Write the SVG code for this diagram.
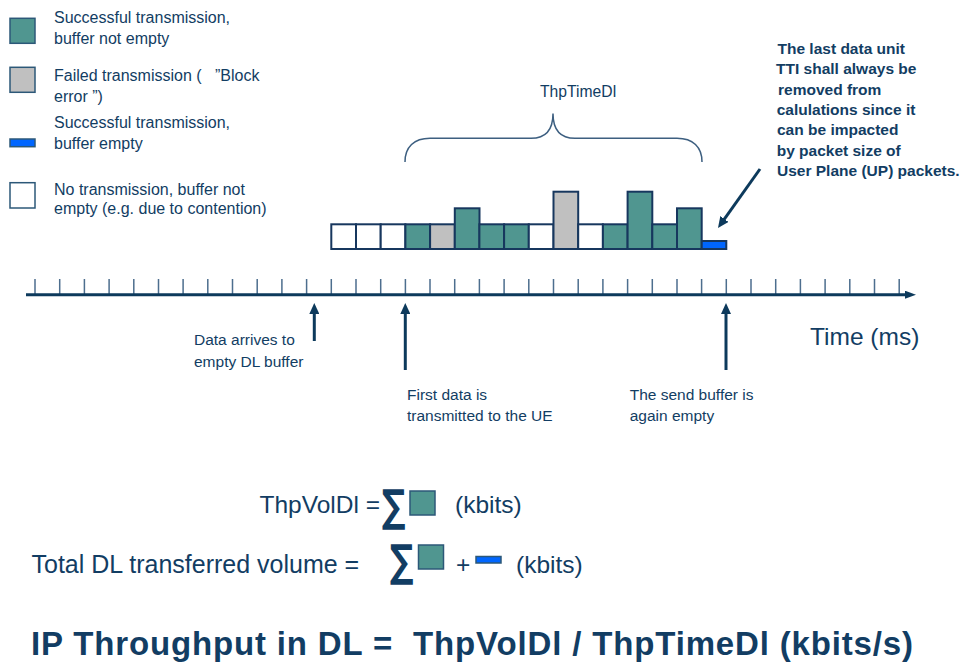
<svg xmlns="http://www.w3.org/2000/svg" width="967" height="664" viewBox="0 0 967 664">
<style>
.t{font-family:"Liberation Sans",Arial,sans-serif;fill:#123d63}
.s16{font-size:16px}
.s15{font-size:15.5px}
.b{font-weight:bold}
.teal{fill:#509690}
.gray{fill:#c0c0c0}
.blue{fill:#0066ff}
.white{fill:#ffffff}
.lg{stroke:#2c5878;stroke-width:1.5}
.bar{stroke:#17375e;stroke-width:2}
.arr{stroke:#0d3a5c;stroke-width:3;fill:none}
.sig{font-family:"DejaVu Sans",sans-serif;font-weight:bold;font-size:44px;fill:#123d63}
</style>
<defs>
<marker id="ah" viewBox="0 0 11 10" refX="1" refY="5" markerWidth="11" markerHeight="10" markerUnits="userSpaceOnUse" orient="auto"><path d="M0,0 L11,5 L0,10 z" fill="#0d3a5c"/></marker>
<marker id="ax" viewBox="0 0 11 8" refX="1" refY="4" markerWidth="11" markerHeight="8" markerUnits="userSpaceOnUse" orient="auto"><path d="M0,0 L11,4 L0,8 z" fill="#0d3a5c"/></marker>
</defs>
<rect width="967" height="664" fill="#ffffff"/>

<g id="legend">
<g id="lg-success">
<rect class="teal lg" x="10" y="18.3" width="25" height="25"/>
<text class="t s16" x="54" y="22.5">Successful transmission,</text>
<text class="t s16" x="54" y="44">buffer not empty</text>
</g>
<g id="lg-failed">
<rect class="gray lg" x="10" y="67.3" width="25" height="25"/>
<text class="t s16" x="54" y="81" style="white-space:pre">Failed transmission (   ”Block</text>
<text class="t s16" x="54" y="102">error ”)</text>
</g>
<g id="lg-empty">
<rect class="blue lg" x="10" y="139" width="25" height="7.7"/>
<text class="t s16" x="54" y="128.3">Successful transmission,</text>
<text class="t s16" x="54" y="149">buffer empty</text>
</g>
<g id="lg-none">
<rect class="white lg" x="10" y="182.7" width="25" height="25.3"/>
<text class="t s16" x="54" y="194.7">No transmission, buffer not</text>
<text class="t s16" x="54" y="214.3">empty (e.g. due to contention)</text>
</g>
</g>

<g id="brace">
<path d="M405,162 C405,147 414,138.3 430,138.3 L531,138.3 C546,138.3 553,130 553,113.5 C553,130 560,138.3 575,138.3 L677,138.3 C693,138.3 702,147 702,162" fill="none" stroke="#3d5f80" stroke-width="1.5"/>
<text class="t" x="540" y="96.7" style="font-size:15.7px">ThpTimeDl</text>
</g>

<g id="bars">
<rect class="white bar" x="331.3" y="224.3" width="24.7" height="24.7"/>
<rect class="white bar" x="356.0" y="224.3" width="24.7" height="24.7"/>
<rect class="white bar" x="380.7" y="224.3" width="24.7" height="24.7"/>
<rect class="teal bar" x="405.4" y="224.3" width="24.7" height="24.7"/>
<rect class="gray bar" x="430.1" y="224.3" width="24.7" height="24.7"/>
<rect class="teal bar" x="454.8" y="208.3" width="24.7" height="40.7"/>
<rect class="teal bar" x="479.4" y="224.3" width="24.7" height="24.7"/>
<rect class="teal bar" x="504.1" y="224.3" width="24.7" height="24.7"/>
<rect class="white bar" x="528.8" y="224.3" width="24.7" height="24.7"/>
<rect class="gray bar" x="553.5" y="191.7" width="24.7" height="57.3"/>
<rect class="white bar" x="578.2" y="224.3" width="24.7" height="24.7"/>
<rect class="teal bar" x="602.9" y="224.3" width="24.7" height="24.7"/>
<rect class="teal bar" x="627.6" y="191.7" width="24.7" height="57.3"/>
<rect class="teal bar" x="652.3" y="224.3" width="24.7" height="24.7"/>
<rect class="teal bar" x="677.0" y="208.3" width="24.7" height="40.7"/>
<rect class="blue bar" x="701.7" y="241" width="24.6" height="8"/>
</g>

<g id="axis">
<path d="M35,279V294 M59.7,279V294 M84.4,279V294 M109.1,279V294 M133.8,279V294 M158.5,279V294 M183.1,279V294 M207.8,279V294 M232.5,279V294 M257.2,279V294 M281.9,279V294 M306.6,279V294 M331.3,279V294 M356,279V294 M380.7,279V294 M405.4,279V294 M430,279V294 M454.7,279V294 M479.4,279V294 M504.1,279V294 M528.8,279V294 M553.5,279V294 M578.2,279V294 M602.9,279V294 M627.6,279V294 M652.3,279V294 M677,279V294 M701.6,279V294 M726.3,279V294 M751,279V294 M775.7,279V294 M800.4,279V294 M825.1,279V294 M849.8,279V294 M874.5,279V294 M899.2,279V294" stroke="#4d6e8e" stroke-width="1.5" fill="none"/>
<line class="arr" x1="26" y1="294.7" x2="906" y2="294.7" marker-end="url(#ax)"/>
<text class="t" x="810" y="345" style="font-size:24.5px">Time (ms)</text>
</g>

<g id="connectors">
<line class="arr" x1="314.3" y1="341" x2="314.3" y2="313" marker-end="url(#ah)"/>
<line class="arr" x1="405.3" y1="370" x2="405.3" y2="313" marker-end="url(#ah)"/>
<line class="arr" x1="726" y1="370" x2="726" y2="313" marker-end="url(#ah)"/>
<line class="arr" x1="760" y1="169" x2="723.8" y2="219.8" marker-end="url(#ah)"/>
</g>

<g id="label-arrives">
<text class="t s15" x="194" y="345">Data arrives to</text>
<text class="t s15" x="194" y="366.5">empty DL buffer</text>
</g>
<g id="label-first">
<text class="t s15" x="407" y="400">First data is</text>
<text class="t s15" x="407" y="421">transmitted to the UE</text>
</g>
<g id="label-send">
<text class="t s15" x="629.7" y="400">The send buffer is</text>
<text class="t s15" x="629.7" y="421">again empty</text>
</g>

<g id="annotation">
<text class="t s15 b" x="777.5" y="54">The last data unit</text>
<text class="t s15 b" x="776" y="74.3">TTI shall always be</text>
<text class="t s15 b" x="778" y="94.6">removed from</text>
<text class="t s15 b" x="776.7" y="114.9">calulations since it</text>
<text class="t s15 b" x="777" y="135.2">can be impacted</text>
<text class="t s15 b" x="776.7" y="155.5">by packet size of</text>
<text class="t s15 b" x="777" y="175.8">User Plane (UP) packets.</text>
</g>

<g id="formula-vol">
<text class="t" x="259.5" y="513.3" style="font-size:24.5px">ThpVolDl =</text>
<text class="sig" transform="translate(393.5,520.5) scale(0.75,1)" x="0" y="0" text-anchor="middle">∑</text>
<rect class="teal lg" x="410" y="491" width="25" height="24"/>
<text class="t" x="455" y="513.3" style="font-size:24.5px">(kbits)</text>
</g>

<g id="formula-total">
<text class="t" x="31.5" y="573.3" style="font-size:25px">Total DL transferred volume =</text>
<text class="sig" transform="translate(401.5,575.5) scale(0.75,1)" x="0" y="0" text-anchor="middle">∑</text>
<rect class="teal lg" x="418.5" y="545" width="25" height="24"/>
<text class="t" x="456" y="573.3" style="font-size:24.5px">+</text>
<rect class="blue lg" x="476" y="556.5" width="25" height="6.5"/>
<text class="t" x="516" y="573.3" style="font-size:24.5px">(kbits)</text>
</g>

<g id="heading">
<text class="t b" x="31" y="654.5" style="font-size:33px;white-space:pre" textLength="882" lengthAdjust="spacing">IP Throughput in DL =  ThpVolDl / ThpTimeDl (kbits/s)</text>
</g>
</svg>
